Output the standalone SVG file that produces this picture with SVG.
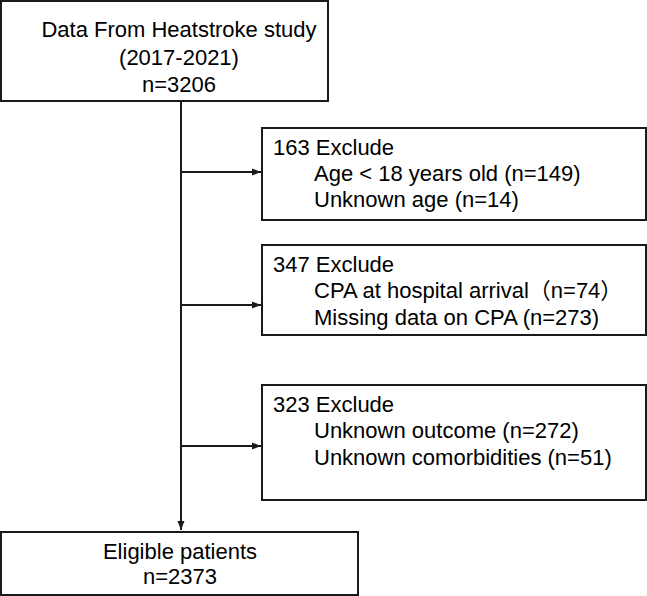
<svg xmlns="http://www.w3.org/2000/svg" width="647" height="596" viewBox="0 0 647 596">
<style>
.box{fill:#fff;stroke:#1a1a1a;stroke-width:2}
text{font-family:"Liberation Sans","Noto Sans CJK SC",Arial,sans-serif;font-size:22px;fill:#000}
.c{text-anchor:middle}
.ln{stroke:#1a1a1a;stroke-width:2;fill:none}
</style>
<defs>
<marker id="ah" markerWidth="10" markerHeight="10" refX="9" refY="5" orient="auto" markerUnits="userSpaceOnUse">
<path d="M0,1.5 L9,5 L0,8.5 z" fill="#1a1a1a"/>
</marker>
</defs>
<g id="connectors">
<line class="ln" x1="181" y1="101" x2="181" y2="530" marker-end="url(#ah)"/>
<line class="ln" x1="181" y1="172" x2="261" y2="172" marker-end="url(#ah)"/>
<line class="ln" x1="181" y1="305" x2="261" y2="305" marker-end="url(#ah)"/>
<line class="ln" x1="181" y1="446" x2="261" y2="446" marker-end="url(#ah)"/>
</g>
<g id="start">
<rect class="box" x="1" y="1" width="327" height="100"/>
<text class="c" x="179" y="37">Data From Heatstroke study</text>
<text class="c" x="179" y="65">(2017-2021)</text>
<text class="c" x="179" y="92">n=3206</text>
</g>
<g id="ex1">
<rect class="box" x="262" y="128" width="384" height="92"/>
<text x="273" y="155">163 Exclude</text>
<text x="314" y="181">Age &lt; 18 years old (n=149)</text>
<text x="314" y="207">Unknown age (n=14)</text>
</g>
<g id="ex2">
<rect class="box" x="262" y="245" width="384" height="90"/>
<text x="273" y="272">347 Exclude</text>
<text x="314" y="298">CPA at hospital arrival（n=74）</text>
<text x="314" y="325">Missing data on CPA (n=273)</text>
</g>
<g id="ex3">
<rect class="box" x="262" y="385" width="384" height="115"/>
<text x="273" y="412">323 Exclude</text>
<text x="314" y="438">Unknown outcome (n=272)</text>
<text x="314" y="465">Unknown comorbidities (n=51)</text>
</g>
<g id="end">
<rect class="box" x="1" y="532" width="357" height="63"/>
<text class="c" x="180" y="559">Eligible patients</text>
<text class="c" x="180" y="584">n=2373</text>
</g>
</svg>
